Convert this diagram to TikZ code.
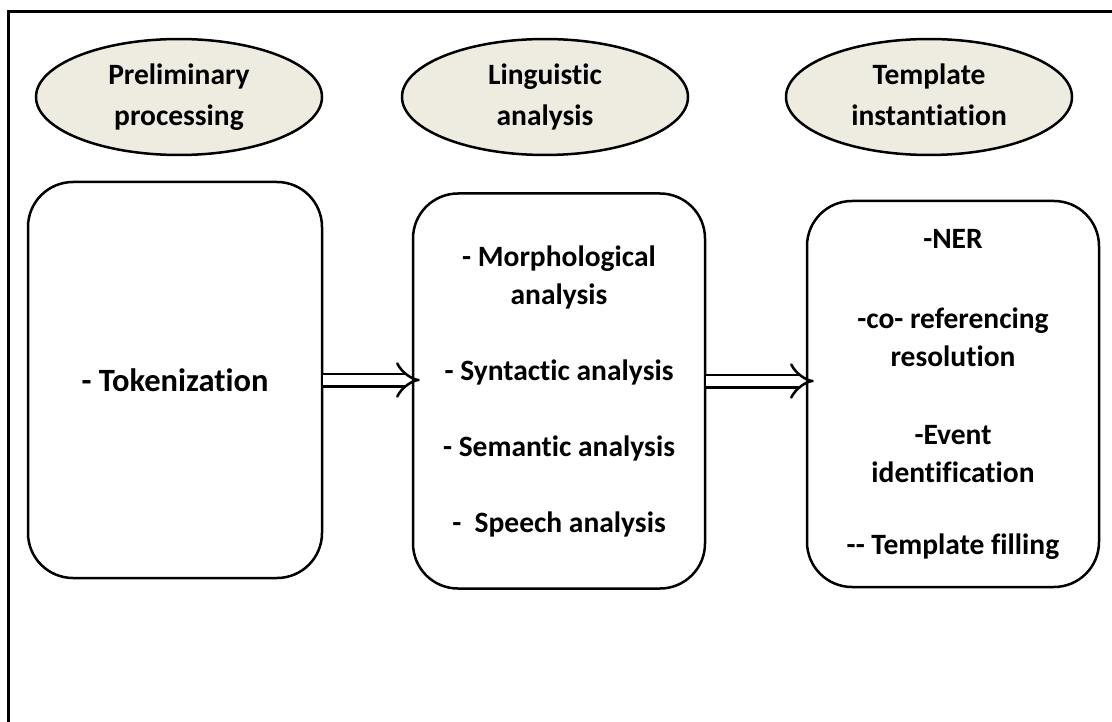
\documentclass[tikz,border=0pt]{standalone}
\usepackage{fontspec}
\setmainfont{Carlito}[Ligatures=NoCommon]
\usepackage{tikz}
\usetikzlibrary{shapes, arrows.meta}
\definecolor{phasefill}{HTML}{EEECE1}
\tikzstyle{phase} = [ellipse, draw, line width=2.5pt, fill=phasefill, minimum width=286pt, minimum height=110pt, inner sep=0pt, align=center, font=\bfseries\fontsize{29.5}{41}\selectfont]
\tikzstyle{stage} = [rectangle, draw, line width=2.5pt, rounded corners=45pt, minimum width=292pt, align=center, font=\bfseries\fontsize{29.5}{38}\selectfont]
\tikzstyle{flow} = [double, double distance=10pt, line width=2.5pt, -{Implies}, shorten >=-8pt]

\begin{document}
\begin{tikzpicture}[x=1pt, y=-1pt]
        \useasboundingbox (0, 0) rectangle (1112, 722);
        \draw[line width=3pt] (8, 722) -- (8, 12) -- (1112, 12);

        \node[phase] at (179, 97) (prelim) {Preliminary\strut\\processing\strut};
        \node[phase] at (545, 97) (ling) {Linguistic\strut\\analysis\strut};
        \node[phase] at (929, 97) (templ) {Template\strut\\instantiation\strut};

        \node[stage, minimum width=294pt, minimum height=396pt, font=\bfseries\fontsize{32.5}{38}\selectfont] at (175, 380) (tokenbox) {- Tokenization};
        \node[stage, minimum height=395pt] at (559, 391) (lingbox) {- Morphological\\analysis\\[38pt]- Syntactic analysis\\[38pt]- Semantic analysis\\[38pt]-\ \ Speech analysis};
        \node[stage, minimum height=386pt] at (953, 394) (templbox) {-NER\\[42pt]-co- referencing\\resolution\\[40pt]-Event\\identification\\[34pt]-{}- Template filling};

        \draw[flow] (tokenbox.east) -- (tokenbox.east -| lingbox.west);
        \draw[flow] ([yshift=10pt]lingbox.east) -- ([yshift=10pt]lingbox.east -| templbox.west);
    \end{tikzpicture}
\end{document}
